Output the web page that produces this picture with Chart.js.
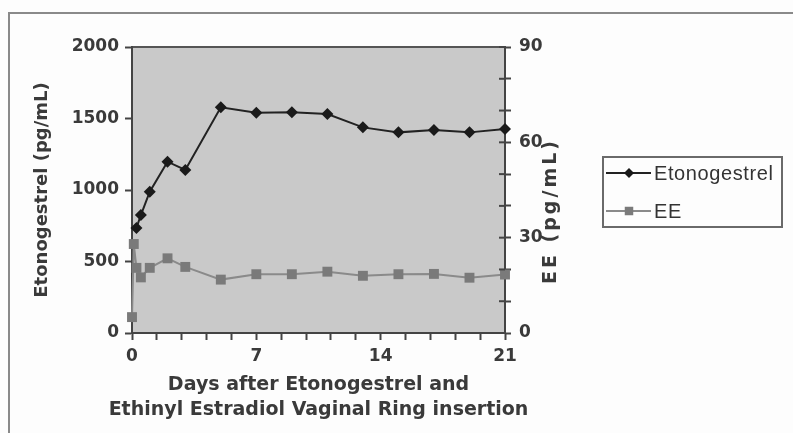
<!DOCTYPE html>
<html>
<head>
<meta charset="utf-8">
<script src="https://cdn.jsdelivr.net/npm/chart.js@4.4.0/dist/chart.umd.min.js"></script>
<style>
  html, body { margin: 0; padding: 0; background: #fdfdfd; overflow: hidden; }
  .wrap { position: relative; width: 793px; height: 433px; }
</style>
</head>
<body>
<div class="wrap"><canvas id="pkChart" width="793" height="433"></canvas></div>
<script>
// days after ring insertion
const etoDays = [0.25, 0.5, 1, 2, 3, 5, 7, 9, 11, 13, 15, 17, 19, 21];
const etoValues = [735, 825, 988, 1198, 1140, 1578, 1541, 1543, 1531, 1438, 1403, 1420, 1403, 1427];
const eeDays = [0, 0.1, 0.25, 0.5, 1, 2, 3, 5, 7, 9, 11, 13, 15, 17, 19, 21];
const eeValues = [5, 28, 20.5, 17.5, 20.5, 23.5, 20.8, 16.8, 18.5, 18.5, 19.3, 18, 18.5, 18.6, 17.4, 18.4];

const dayTicks = [0, 7, 14, 21];
const etoTicks = [0, 500, 1000, 1500, 2000];
const eeTicks = [0, 30, 60, 90];
const xTitle = ['Days after Etonogestrel and', 'Ethinyl Estradiol Vaginal Ring insertion'];

const tickFont = { family: 'DejaVu Sans', size: 17, weight: 'bold' };
const axisColor = '#444';
const textColor = '#3a3a3a';

const decor = {
    id: 'decor',
    beforeDraw(chart) {
        const { ctx, chartArea: a } = chart;
        ctx.save();
        ctx.strokeStyle = '#8a8a8a';
        ctx.lineWidth = 2;
        ctx.strokeRect(9, 13, 900, 600);
        ctx.fillStyle = '#c9c9c9';
        ctx.fillRect(a.left, a.top, a.right - a.left, a.bottom - a.top);
        ctx.strokeStyle = '#555';
        ctx.beginPath();
        ctx.moveTo(a.left, a.top);
        ctx.lineTo(a.right, a.top);
        ctx.stroke();
        ctx.restore();
    },
    afterDraw(chart) {
        const { ctx, chartArea: a } = chart;
        const y1 = chart.scales.y1;
        ctx.save();
        // right axis ticks cross the axis line
        ctx.strokeStyle = axisColor;
        ctx.lineWidth = 2;
        y1.ticks.forEach(t => {
            const y = y1.getPixelForValue(t.value);
            ctx.beginPath();
            ctx.moveTo(a.right - 6, y);
            ctx.lineTo(a.right, y);
            ctx.stroke();
        });

        // x axis title, wider than the plot so drawn here
        ctx.fillStyle = textColor;
        ctx.font = 'bold 19px "DejaVu Sans"';
        ctx.textAlign = 'center';
        ctx.textBaseline = 'middle';
        const cx = (a.left + a.right) / 2;
        ctx.fillText(xTitle[0], cx, 385);
        ctx.fillText(xTitle[1], cx, 410);

        // right axis title, reads bottom to top
        ctx.font = 'bold 19px "DejaVu Sans"';
        ctx.letterSpacing = '3px';
        ctx.translate(551, 211);
        ctx.rotate(-Math.PI / 2);
        ctx.fillText('EE (pg/mL)', 0, 0);
        ctx.setTransform(1, 0, 0, 1, 0, 0);

        // legend
        ctx.strokeStyle = '#6a6a6a';
        ctx.lineWidth = 2;
        ctx.strokeRect(603, 157, 179, 70);
        const rows = [
            { label: 'Etonogestrel', y: 173, color: '#1a1a1a', line: '#222', style: 'rectRot', r: 5 },
            { label: 'EE', y: 211, color: '#7a7a7a', line: '#8a8a8a', style: 'rect', r: 6 }
        ];
        rows.forEach(row => {
            ctx.strokeStyle = row.line;
            ctx.lineWidth = 2;
            ctx.beginPath();
            ctx.moveTo(606, row.y);
            ctx.lineTo(651, row.y);
            ctx.stroke();
            ctx.fillStyle = row.color;
            Chart.helpers.drawPoint(ctx, { pointStyle: row.style, radius: row.r, borderWidth: 0 }, 629, row.y);
            ctx.fillStyle = '#333';
            ctx.font = '20px "Liberation Sans"';
            ctx.letterSpacing = '0.6px';
            ctx.textAlign = 'left';
            ctx.textBaseline = 'middle';
            ctx.fillText(row.label, 654, row.y + 1);
        });
        ctx.restore();
    }
};

new Chart(document.getElementById('pkChart'), {
    type: 'line',
    data: {
        datasets: [{
            label: 'Etonogestrel',
            data: etoDays.map((d, i) => ({ x: d, y: etoValues[i] })),
            yAxisID: 'y',
            borderColor: '#222',
            backgroundColor: '#1a1a1a',
            borderWidth: 2,
            pointStyle: 'rectRot',
            pointRadius: 6,
            pointBorderWidth: 0,
            tension: 0,
            clip: false
        }, {
            label: 'EE',
            data: eeDays.map((d, i) => ({ x: d, y: eeValues[i] })),
            yAxisID: 'y1',
            borderColor: '#8a8a8a',
            backgroundColor: '#7a7a7a',
            borderWidth: 2,
            pointStyle: 'rect',
            pointRadius: 7,
            pointBorderWidth: 0,
            tension: 0,
            clip: false
        }]
    },
    options: {
        responsive: false,
        animation: false,
        layout: { padding: { left: 0, top: 47, right: 228, bottom: 0 } },
        plugins: { legend: { display: false }, tooltip: { enabled: false } },
        scales: {
            x: {
                type: 'linear',
                min: 0,
                max: 21,
                afterFit: s => { s.height = 100; },
                ticks: {
                    stepSize: 1.4,
                    autoSkip: false,
                    maxRotation: 0,
                    color: textColor,
                    font: tickFont,
                    padding: 6,
                    callback: v => dayTicks.includes(v) ? String(v) : ''
                },
                grid: { drawOnChartArea: false, tickLength: 7, tickColor: axisColor, tickWidth: 2 },
                border: { color: axisColor, width: 2 }
            },
            y: {
                position: 'left',
                min: 0,
                max: 2000,
                afterFit: s => { s.width = 132; },
                afterBuildTicks: s => { s.ticks = etoTicks.map(v => ({ value: v })); },
                ticks: { color: textColor, font: tickFont, padding: 6, callback: v => String(v) },
                grid: { drawOnChartArea: false, tickLength: 7, tickColor: axisColor, tickWidth: 2 },
                border: { color: axisColor, width: 2 },
                title: {
                    display: true,
                    text: 'Etonogestrel (pg/mL)',
                    color: textColor,
                    font: { family: 'DejaVu Sans', size: 18, weight: 'bold' },
                    padding: { top: 32, bottom: 0 }
                }
            },
            y1: {
                position: 'right',
                min: 0,
                max: 90,
                afterFit: s => { s.width = 60; },
                ticks: {
                    stepSize: 10,
                    autoSkip: false,
                    color: textColor,
                    font: tickFont,
                    padding: 8,
                    callback: v => eeTicks.includes(v) ? String(v) : ''
                },
                grid: { drawOnChartArea: false, tickLength: 6, tickColor: axisColor, tickWidth: 2 },
                border: { color: axisColor, width: 2 }
            }
        }
    },
    plugins: [decor]
});
</script>
</body>
</html>
